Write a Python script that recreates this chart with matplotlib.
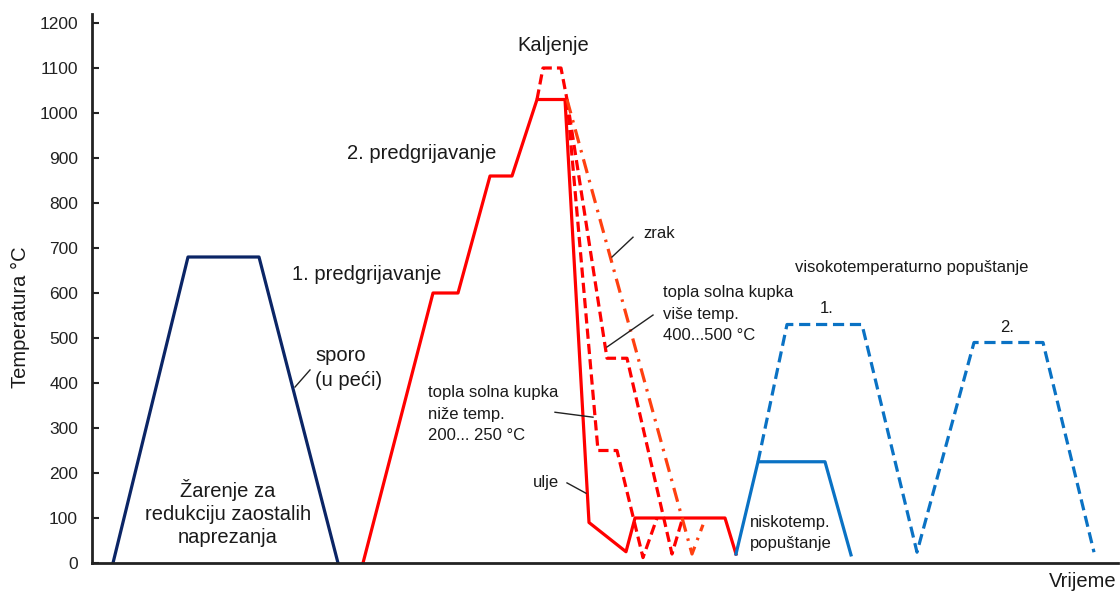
import matplotlib
matplotlib.use("Agg")
import matplotlib.pyplot as plt

plt.rcParams['font.family'] = ['Liberation Sans', 'DejaVu Sans']

# time axis is arbitrary (no ticks), temperatures in °C
zarenje_t = [21, 96, 167, 246]
zarenje_T = [0, 680, 680, 0]

grijanje_t = [271, 341, 366, 398, 420, 445, 473]
grijanje_T = [0, 600, 600, 860, 860, 1030, 1030]

kaljenje_vrh_t = [445, 451, 469, 475]
kaljenje_vrh_T = [1030, 1100, 1100, 1030]

ulje_t = [473, 497, 534, 543, 633, 644]
ulje_T = [1030, 90, 25, 100, 100, 20]

nize_t = [475, 506, 525, 551, 565]
nize_T = [1030, 250, 250, 12, 100]

vise_t = [475, 515, 535, 580, 590]
vise_T = [1030, 455, 455, 20, 95]

zrak_t = [475, 600, 611]
zrak_T = [1030, 20, 85]

nisko_t = [644, 666, 733, 759]
nisko_T = [20, 225, 225, 18]

visoko_t = [666, 695, 770, 825, 882, 951, 1002]
visoko_T = [225, 530, 530, 24, 490, 490, 24]

y_ticks = list(range(0, 1201, 100))

navy = '#0B2566'
red = '#FF0000'
orange = '#FF4010'
blue = '#0A72C4'

fig = plt.figure(figsize=(11.2, 5.91), dpi=100)
ax = fig.add_axes([92 / 1120, 28 / 591, 1026 / 1120, 549 / 591])

lw = 2.3
ax.plot(zarenje_t, zarenje_T, color=navy, lw=lw)
ax.plot(grijanje_t, grijanje_T, color=red, lw=lw)
ax.plot(kaljenje_vrh_t, kaljenje_vrh_T, color=red, lw=lw, dashes=(3.2, 1.6))
ax.plot(ulje_t, ulje_T, color=red, lw=lw)
ax.plot(nize_t, nize_T, color=red, lw=lw, dashes=(3.2, 1.6))
ax.plot(vise_t, vise_T, color=red, lw=lw, dashes=(3.2, 1.6))
ax.plot(zrak_t, zrak_T, color=orange, lw=lw, dashes=(4.5, 2.2, 0.8, 2.2))
ax.plot(nisko_t, nisko_T, color=blue, lw=lw)
ax.plot(visoko_t, visoko_T, color=blue, lw=lw, dashes=(3.5, 1.8))

# pointer lines
pointers = [((203, 218), (391, 429)),
            ((520, 541), (680, 724)),
            ((515, 561), (480, 551)),
            ((463, 501), (335, 324)),
            ((475, 494), (178, 155))]
for px, py in pointers:
    ax.plot(px, py, color='#222222', lw=1.0)

big = 14.5
small = 12
tc = '#1a1a1a'
ax.text(461, 1150, 'Kaljenje', fontsize=big, ha='center', va='center', color=tc)
ax.text(255, 910, '2. predgrijavanje', fontsize=big, ha='left', va='center', color=tc)
ax.text(200, 640, '1. predgrijavanje', fontsize=big, ha='left', va='center', color=tc)
ax.text(223, 433, 'sporo\n(u peći)', fontsize=big, ha='left', va='center', color=tc,
        linespacing=1.36)
ax.text(136, 111, 'Žarenje za\nredukciju zaostalih\nnaprezanja', fontsize=big,
        ha='center', va='center', color=tc, linespacing=1.24)
ax.text(336, 331, 'topla solna kupka\nniže temp.\n200... 250 °C', fontsize=small,
        ha='left', va='center', color=tc, linespacing=1.55)
ax.text(441, 178, 'ulje', fontsize=small, ha='left', va='center', color=tc)
ax.text(551, 733, 'zrak', fontsize=small, ha='left', va='center', color=tc)
ax.text(571, 553, 'topla solna kupka\nviše temp.\n400...500 °C', fontsize=small,
        ha='left', va='center', color=tc, linespacing=1.55)
ax.text(820, 657, 'visokotemperaturno popuštanje', fontsize=small, ha='center',
        va='center', color=tc)
ax.text(735, 566, '1.', fontsize=small, ha='center', va='center', color=tc)
ax.text(915, 524, '2.', fontsize=small, ha='center', va='center', color=tc)
ax.text(658, 67, 'niskotemp.\npopuštanje', fontsize=small, ha='left', va='center',
        color=tc, linespacing=1.55)
ax.text(1025, -20, 'Vrijeme', fontsize=big, ha='right', va='top', color=tc,
        clip_on=False)
fig.text(20 / 1120, 1 - 317 / 591, 'Temperatura °C', fontsize=big, rotation=90,
         ha='center', va='center', color=tc)

ax.set_xlim(0, 1026)
ax.set_ylim(0, 1220)
ax.set_yticks(y_ticks)
ax.set_xticks([])
ax.tick_params(axis='y', direction='in', length=5, width=1.5, labelsize=12.5,
               colors='#222222', pad=10)
for side in ['top', 'right']:
    ax.spines[side].set_visible(False)
for side in ['left', 'bottom']:
    ax.spines[side].set_linewidth(2.0)
    ax.spines[side].set_color('#222222')

fig.savefig('out.png', dpi=100)
